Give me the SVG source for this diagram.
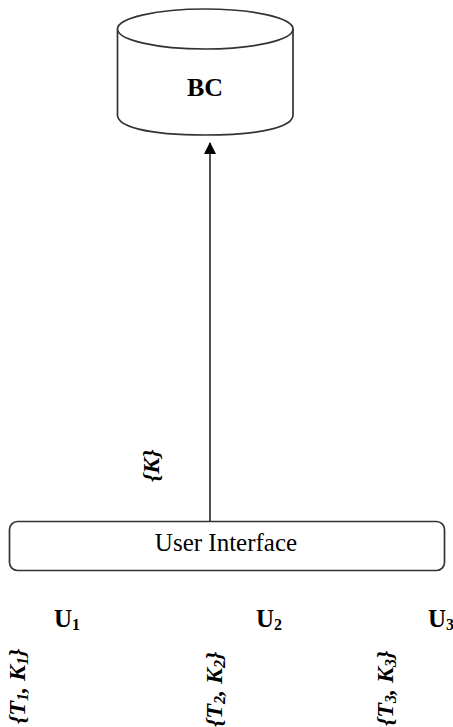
<svg xmlns="http://www.w3.org/2000/svg" width="453" height="727" viewBox="0 0 453 727">
<defs>
<style>
text{font-family:"Liberation Serif","Times New Roman",serif;fill:#000}
.b{font-weight:bold;font-size:25px}
.v{font-weight:bold;font-style:italic;font-size:24px}
.s{stroke:#333;stroke-width:1.7;fill:#fff}
.sub{font-size:16px}
</style>
<marker id="arr" markerUnits="userSpaceOnUse" markerWidth="12" markerHeight="12" refX="11" refY="6" orient="auto"><path d="M0,0 L12,6 L0,12 Z" fill="#000"/></marker>
</defs>
<rect width="453" height="727" fill="#fff"/>
<g id="connectors">
<line x1="210" y1="521" x2="210" y2="143" stroke="#333" stroke-width="1.7" marker-end="url(#arr)"/>
</g>
<g id="node-bc">
<path class="s" d="M117.500,29 V115 C117.500,126 145,135 205,135 C265,135 293,126 293,115 V29"/>
<ellipse class="s" cx="205.250" cy="29" rx="87.750" ry="20"/>
<text class="b" style="font-size:26px" x="205" y="96" text-anchor="middle">BC</text>
</g>
<g id="node-ui">
<rect class="s" x="9.500" y="521.500" width="435" height="49" rx="8"/>
<text x="226" y="550.500" font-size="25" text-anchor="middle">User Interface</text>
</g>
<g id="label-k"><text class="v" transform="translate(159,482) rotate(-90)">{K}</text></g>
<g id="node-u1"><text class="b" x="54" y="627">U<tspan class="sub" dy="3">1</tspan></text></g>
<g id="node-u2"><text class="b" x="256" y="627">U<tspan class="sub" dy="3">2</tspan></text></g>
<g id="node-u3"><text class="b" x="428" y="627">U<tspan class="sub" dy="3">3</tspan></text></g>
<g id="label-1"><text class="v" transform="translate(25,724) rotate(-90)">{T<tspan class="sub" dy="3">1</tspan><tspan dy="-3">, K</tspan><tspan class="sub" dy="3">1</tspan><tspan dy="-3">}</tspan></text></g>
<g id="label-2"><text class="v" transform="translate(222,727) rotate(-90)">{T<tspan class="sub" dy="3">2</tspan><tspan dy="-3">, K</tspan><tspan class="sub" dy="3">2</tspan><tspan dy="-3">}</tspan></text></g>
<g id="label-3"><text class="v" transform="translate(393,726) rotate(-90)">{T<tspan class="sub" dy="3">3</tspan><tspan dy="-3">, K</tspan><tspan class="sub" dy="3">3</tspan><tspan dy="-3">}</tspan></text></g>
</svg>
